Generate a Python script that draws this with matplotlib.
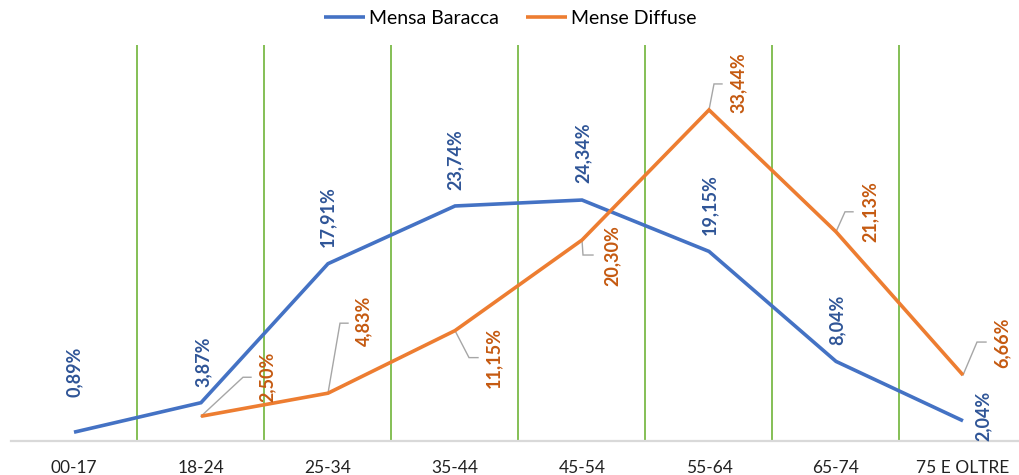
import matplotlib
matplotlib.use("Agg")
from matplotlib import pyplot as plt
from matplotlib.transforms import ScaledTranslation

# fasce d'eta e percentuali per mensa
fasce = ["00-17", "18-24", "25-34", "35-44", "45-54", "55-64", "65-74", "75 E OLTRE"]
baracca = [0.89, 3.87, 17.91, 23.74, 24.34, 19.15, 8.04, 2.04]
diffuse = [None, 2.50, 4.83, 11.15, 20.30, 33.44, 21.13, 6.66]

# spostamento etichette (pixel) rispetto al punto
off_baracca = [(0, 60), (2, 41), (0, 47), (0, 46), (1, 47), (1, 47), (1, 42), (20, 5)]
off_diffuse = [None, (66, 39), (36, 72), (39, -27), (30, -16), (29, 27), (34, 20), (39, 32)]
# linee guida: angolo (x, y) e fine del tratto orizzontale
guida_diffuse = [None, (42, 39, 50), (12, 70, 20), (14, -27, 23), (1, -15, 11),
                 (5, 26, 13), (9, 20, 17), (14, 33, 23)]

blu, blu_lab = "#4472C4", "#2F5597"
arancio, arancio_lab = "#ED7D31", "#C55A11"

plt.rcParams['font.family'] = ['Lato', 'DejaVu Sans']

fig = plt.figure(figsize=(10.2, 4.75), dpi=100)
ax = fig.add_axes([10.5 / 1020, 34 / 475, 1016 / 1020, 396 / 475])

x = list(range(len(fasce)))
xd = [i for i, v in zip(x, diffuse) if v is not None]
yd = [v for v in diffuse if v is not None]

for b in range(len(fasce) - 1):
	ax.axvline(b + 0.5, color="#84BF55", lw=1.4, zorder=1)

ax.plot(x, baracca, color=blu, lw=2.6, label="Mensa Baracca", zorder=3,
	solid_capstyle="butt", solid_joinstyle="miter")
ax.plot(xd, yd, color=arancio, lw=2.6, label="Mense Diffuse", zorder=3,
	solid_capstyle="butt", solid_joinstyle="miter")

def fmt(v):
	return ("%.2f%%" % v).replace(".", ",")

for i, v in enumerate(baracca):
	dx, dy = off_baracca[i]
	ax.annotate(fmt(v), (i, v), xytext=(dx, dy), textcoords="offset pixels",
		rotation=90, ha="center", va="center", color=blu_lab,
		fontsize=13, fontweight="bold", zorder=4)

for i, v in enumerate(diffuse):
	if v is None:
		continue
	# linea guida in pixel a partire dal punto
	cx, cy, ex = guida_diffuse[i]
	ax.plot([0, cx, ex], [0, cy, cy], transform=ScaledTranslation(i, v, ax.transData),
		color="#A6A6A6", lw=1, zorder=2, solid_joinstyle="miter")
	dx, dy = off_diffuse[i]
	ax.annotate(fmt(v), (i, v), xytext=(dx, dy), textcoords="offset pixels",
		rotation=90, ha="center", va="center", color=arancio_lab,
		fontsize=13, fontweight="bold", zorder=4)

ax.set_xlim(-0.5, len(fasce) - 0.5)
ax.set_ylim(0, 40)
ax.set_xticks(x)
ax.set_xticklabels(fasce, fontsize=12.5, color="#222222")
ax.set_yticks([])
ax.tick_params(axis="x", length=0, pad=14)
for s in ["top", "right", "left"]:
	ax.spines[s].set_visible(False)
ax.spines["bottom"].set_color("#D9D9D9")
ax.spines["bottom"].set_linewidth(1.6)
ax.patch.set_alpha(0)

fig.legend(loc="center", bbox_to_anchor=(0.5, 1 - 18 / 475), ncol=2, frameon=False,
	fontsize=14, handlelength=2.1, handletextpad=0.2, columnspacing=1.4)

fig.savefig("out.png", dpi=100)
